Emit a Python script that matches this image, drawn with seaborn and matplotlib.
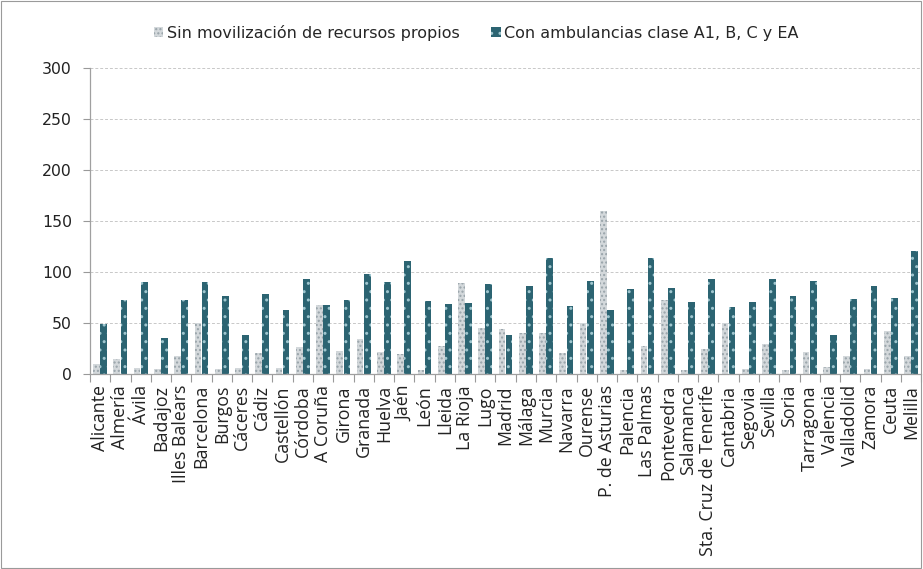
import matplotlib
matplotlib.use("Agg")
import matplotlib.pyplot as plt
import seaborn as sns
import pandas as pd
import numpy as np
from matplotlib.patches import Rectangle
from matplotlib.ticker import FixedLocator

provincias = ["Alicante", "Almería", "Ávila", "Badajoz", "Illes Balears", "Barcelona", "Burgos",
              "Cáceres", "Cádiz", "Castellón", "Córdoba", "A Coruña", "Girona", "Granada", "Huelva",
              "Jaén", "León", "Lleida", "La Rioja", "Lugo", "Madrid", "Málaga", "Murcia", "Navarra",
              "Ourense", "P. de Asturias", "Palencia", "Las Palmas", "Pontevedra", "Salamanca",
              "Sta. Cruz de Tenerife", "Cantabria", "Segovia", "Sevilla", "Soria", "Tarragona",
              "Valencia", "Valladolid", "Zamora", "Ceuta", "Melilla"]

sin_movilizacion = [10, 15, 6, 5, 18, 50, 5, 6, 21, 6, 26, 68, 23, 34, 22, 20, 4, 27, 89, 45, 44,
                    40, 40, 21, 50, 160, 4, 27, 73, 4, 25, 50, 5, 29, 4, 22, 7, 18, 5, 42, 18]
con_ambulancias = [49, 73, 90, 35, 73, 90, 76, 38, 78, 63, 93, 68, 73, 98, 90, 111, 72, 69, 70, 88, 38,
                   86, 114, 67, 91, 63, 83, 114, 84, 71, 93, 66, 71, 93, 76, 91, 38, 74, 86, 75, 121]

serie1 = "Sin movilización de recursos propios"
serie2 = "Con ambulancias clase A1, B, C y EA"

df = pd.DataFrame({
    "Provincia": provincias * 2,
    "Valor": sin_movilizacion + con_ambulancias,
    "Serie": [serie1] * len(provincias) + [serie2] * len(provincias),
})

sns.set_style("white")
plt.rcParams["font.family"] = ["DejaVu Sans"]

fig = plt.figure(figsize=(9.23, 5.69), dpi=100)
ax = fig.add_axes([0.0975, 0.3427, 0.9005, 0.5378])

gray = "#d3d8db"
teal = "#2c6472"
sns.barplot(data=df, x="Provincia", y="Valor", hue="Serie", ax=ax,
            palette=[gray, teal], width=0.7, gap=0.05, legend=True, saturation=1)

n = len(provincias)
for i, bar in enumerate(ax.patches[:2 * n]):
    if i < n:
        bar.set_edgecolor("#98a3a9")
        bar.set_hatch("....")
    else:
        bar.set_edgecolor("#9fc6cf")
        bar.set_hatch("..")
    bar.set_linewidth(0)

ax.set_ylim(0, 300)
ax.set_xlim(-0.5, n - 0.5)
ax.set_yticks([0, 50, 100, 150, 200, 250, 300])
ax.yaxis.grid(True, color="#c8c8c8", linestyle=(0, (3, 2)), linewidth=0.7)
ax.set_axisbelow(True)
ax.set_xlabel("")
ax.set_ylabel("")
ax.tick_params(axis="x", labelrotation=90, length=0, pad=8, colors="#222222")
for lab in ax.get_xticklabels():
    lab.set_fontfamily(["Open Sans", "DejaVu Sans"])
    lab.set_fontsize(12.8)
ax.tick_params(axis="y", labelsize=11.3, length=5, width=0.8, color="#999999", pad=8,
               labelcolor="#222222", left=True)
ax.xaxis.set_minor_locator(FixedLocator(np.arange(-0.5, n, 1.0)))
ax.tick_params(axis="x", which="minor", length=6, width=0.8, color="#999999", bottom=True)
for s in ["top", "right"]:
    ax.spines[s].set_visible(False)
for s in ["left", "bottom"]:
    ax.spines[s].set_color("#a0a0a0")
    ax.spines[s].set_linewidth(0.9)

handles, labels = ax.get_legend_handles_labels()
ax.get_legend().remove()
for h in handles:
    h.set_linewidth(0)
handles[0].set_edgecolor("#98a3a9"); handles[0].set_hatch("....")
handles[1].set_edgecolor("#9fc6cf"); handles[1].set_hatch("..")
fig.legend(handles, labels, loc="center", bbox_to_anchor=(0.516, 0.942), ncol=2,
           frameon=False, fontsize=11.5, handlelength=0.6, handleheight=0.6,
           handletextpad=0.2, columnspacing=2.0)

fig.patches.append(Rectangle((0.001, 0.001), 0.997, 0.997, transform=fig.transFigure,
                             fill=False, edgecolor="#9a9a9a", linewidth=0.8))

fig.savefig("out.png", dpi=100)
